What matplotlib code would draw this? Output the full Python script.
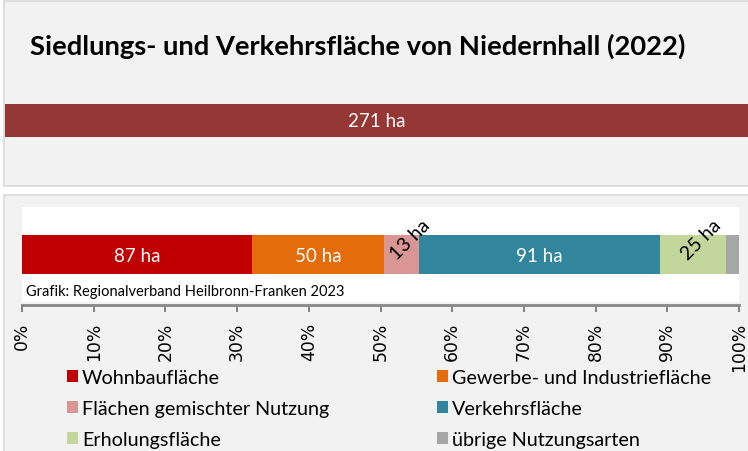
import matplotlib
matplotlib.use("Agg")
import matplotlib.pyplot as plt
from matplotlib.patches import Rectangle
from matplotlib.ticker import FixedLocator, FuncFormatter

# Data (hectares)
title = "Siedlungs- und Verkehrsfläche von Niedernhall (2022)"
total_ha = 271
categories = ["Wohnbaufläche", "Gewerbe- und Industriefläche",
              "Flächen gemischter Nutzung", "Verkehrsfläche",
              "Erholungsfläche", "übrige Nutzungsarten"]
values_ha = [87, 50, 13, 91, 25, 5]
colors = ["#c00000", "#e46c0a", "#d99694", "#31859c", "#c3d69b", "#a6a6a6"]
rotated = [False, False, True, False, True, False]
show_label = [True, True, True, True, True, False]
ticks_pct = [0, 10, 20, 30, 40, 50, 60, 70, 80, 90, 100]
source = "Grafik: Regionalverband Heilbronn-Franken 2023"

W, H = 748, 452
FONT = "Lato"

fig = plt.figure(figsize=(W / 100, H / 100), dpi=100, facecolor="white")


def rect(x0, y0, x1, y1):
    """Figure-fraction [left, bottom, width, height] from pixel box (top-left origin)."""
    return [x0 / W, 1 - y1 / H, (x1 - x0) / W, (y1 - y0) / H]


# Panel backgrounds
for (x0, y0, x1, y1) in [(4, 2, 770, 187), (4, 196, 770, 480)]:
    l, b, w, h = rect(x0, y0, x1, y1)
    fig.add_artist(Rectangle((l, b), w, h, transform=fig.transFigure,
                             facecolor="#f2f2f2", edgecolor="#d9d9d9",
                             linewidth=1.2, zorder=0))

fig.text(30 / W, 1 - 46 / H, title, fontsize=19.7, fontweight="bold",
         family=FONT, va="center", ha="left", color="black")

# Top: total area bar
ax_top = fig.add_axes(rect(5, 80, 748, 163))
ax_top.set_facecolor("white")
ax_top.barh([0], [total_ha], height=0.4, color="#953735")
ax_top.set_xlim(0, total_ha)
ax_top.set_ylim(-0.5, 0.5)
ax_top.text(total_ha / 2, 0, f"{total_ha} ha", color="white", fontsize=13.5,
            family=FONT, ha="center", va="center")
ax_top.axis("off")
ax_top.patch.set_visible(True)

# Bottom: stacked share bar
ax = fig.add_axes(rect(22, 208, 739, 303))
ax.set_facecolor("white")
total = sum(values_ha)
left = 0.0
bars = []
for cat, v, c, rot, show in zip(categories, values_ha, colors, rotated, show_label):
    share = v / total * 100
    b = ax.barh([0], [share], left=left, height=0.41, color=c, label=cat)
    bars.append(b)
    cx = left + share / 2
    if show:
        if rot:
            ax.text(cx + 1.2, 0.16, f"{v} ha", rotation=45, color="black",
                    fontsize=14, family=FONT, ha="center", va="center")
        else:
            ax.text(cx, -0.01, f"{v} ha", color="white", fontsize=13.5,
                    family=FONT, ha="center", va="center")
    left += share

ax.set_xlim(0, 100)
ax.set_ylim(-0.5, 0.5)
ax.text(0.006, 0.12, source, transform=ax.transAxes, fontsize=10.55,
        family=FONT, ha="left", va="center", color="black")

for s in ["top", "left", "right"]:
    ax.spines[s].set_visible(False)
ax.spines["bottom"].set_color("#868686")
ax.spines["bottom"].set_linewidth(2)
ax.spines["bottom"].set_position(("outward", 2))
ax.yaxis.set_visible(False)
ax.xaxis.set_major_locator(FixedLocator(ticks_pct))
ax.xaxis.set_major_formatter(FuncFormatter(lambda x, p: f"{x:.0f}%"))
ax.tick_params(axis="x", direction="out", length=5, width=1.5,
               color="#868686", pad=7, labelsize=12.4, labelrotation=90,
               labelcolor="black")
for lab in ax.get_xticklabels():
    lab.set_family("DejaVu Sans")

# Legend in two columns
col1 = [0, 2, 4]
col2 = [1, 3, 5]
for idx, x0 in [(col1, 67), (col2, 437)]:
    fig.legend([bars[i] for i in idx], [categories[i] for i in idx],
               loc="upper left", bbox_to_anchor=(x0 / W, 1 - 370 / H),
               frameon=False, prop={"family": FONT, "size": 14.2},
               handlelength=0.55, handleheight=0.55, handletextpad=0.22,
               labelspacing=0.7, borderpad=0, borderaxespad=0)

fig.savefig("out.png", dpi=100, facecolor=fig.get_facecolor())
